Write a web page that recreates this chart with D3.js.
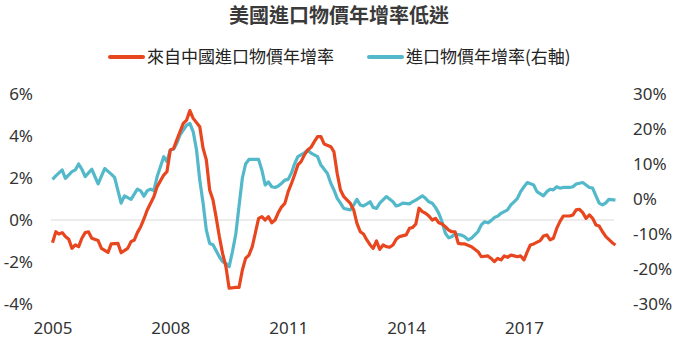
<!DOCTYPE html>
<html><head><meta charset="utf-8">
<script src="https://cdn.jsdelivr.net/npm/d3@7"></script>
<style>
body{margin:0;background:#fff;}
text{font-family:"Noto Sans","Noto Sans CJK TC",sans-serif;}
</style></head>
<body><svg id="c" width="680" height="340"></svg>
<script>
const title = "美國進口物價年增率低迷";
const seriesNames = ["來自中國進口物價年增率", "進口物價年增率(右軸)"];
const colors = ["#e8461f", "#52b8ca"];

const chinaMonths = ["2005-01","2005-02","2005-03","2005-04","2005-05","2005-06","2005-07","2005-08","2005-09","2005-10","2005-11","2005-12","2006-01","2006-03","2006-04","2006-06","2006-07","2006-09","2006-10","2006-12","2007-01","2007-02","2007-03","2007-04","2007-05","2007-06","2007-08","2007-09","2007-11","2007-12","2008-01","2008-02","2008-03","2008-05","2008-06","2008-07","2008-08","2008-10","2008-11","2008-12","2009-01","2009-02","2009-03","2009-04","2009-05","2009-06","2009-07","2009-09","2009-10","2009-11","2009-12","2010-01","2010-02","2010-03","2010-04","2010-05","2010-06","2010-07","2010-08","2010-09","2010-10","2010-11","2010-12","2011-01","2011-02","2011-03","2011-04","2011-05","2011-06","2011-07","2011-08","2011-09","2011-10","2011-11","2011-12","2012-02","2012-03","2012-04","2012-05","2012-06","2012-08","2012-09","2012-10","2012-11","2012-12","2013-01","2013-02","2013-03","2013-04","2013-05","2013-06","2013-07","2013-08","2013-09","2013-10","2013-11","2014-01","2014-02","2014-03","2014-04","2014-05","2014-06","2014-07","2014-08","2014-09","2014-10","2014-11","2014-12","2015-01","2015-02","2015-03","2015-04","2015-05","2015-06","2015-07","2015-09","2015-11","2015-12","2016-02","2016-03","2016-04","2016-05","2016-06","2016-07","2016-08","2016-09","2016-10","2016-11","2016-12","2017-01","2017-02","2017-03","2017-04","2017-06","2017-07","2017-08","2017-09","2017-10","2017-11","2017-12","2018-01","2018-03","2018-04","2018-05","2018-06","2018-07","2018-08","2018-09","2018-10","2018-11","2018-12","2019-01","2019-02","2019-04","2019-05"];
const chinaValues = [-1.08,-0.56,-0.67,-0.60,-0.79,-0.92,-1.35,-1.19,-1.27,-0.87,-0.60,-0.56,-0.87,-0.98,-1.35,-1.54,-1.14,-1.11,-1.56,-1.35,-1.03,-0.95,-0.60,-0.32,0.05,0.48,1.11,1.59,2.14,2.30,3.33,3.41,3.81,4.60,4.76,5.21,4.84,4.44,3.41,2.86,1.43,0.95,0.16,-0.79,-1.59,-2.22,-3.25,-3.21,-3.21,-2.38,-1.83,-1.67,-1.27,-0.63,0.08,0.16,0,0.16,-0.13,0,0.35,0.63,0.79,1.35,1.75,2.14,2.62,2.78,3.10,3.33,3.46,3.73,3.97,3.97,3.62,3.49,3.25,2.20,1.43,1.11,0.79,0.48,-0.16,-0.56,-0.67,-0.95,-1.19,-1.35,-1.00,-1.40,-1.19,-1.27,-1.30,-1.19,-0.92,-0.79,-0.71,-0.40,-0.36,-0.20,0.56,0.40,0.32,0.19,0,0.08,-0.13,-0.19,-0.32,-0.48,-0.56,-0.56,-1.11,-1.14,-1.14,-1.27,-1.51,-1.75,-1.71,-1.83,-1.98,-1.83,-1.90,-1.71,-1.78,-1.67,-1.71,-1.75,-1.71,-1.90,-1.51,-1.19,-1.14,-0.98,-0.76,-0.71,-0.95,-0.87,-0.40,-0.08,0.19,0.19,0.24,0.48,0.51,0.35,0.08,0.24,0.08,-0.24,-0.29,-0.56,-0.79,-1.08,-1.19];

const totalMonths = ["2005-01","2005-02","2005-04","2005-05","2005-07","2005-08","2005-09","2005-10","2005-11","2006-01","2006-03","2006-05","2006-07","2006-08","2006-10","2006-11","2007-01","2007-03","2007-04","2007-05","2007-06","2007-07","2007-08","2007-09","2007-11","2007-12","2008-01","2008-02","2008-03","2008-04","2008-06","2008-07","2008-08","2008-09","2008-10","2008-11","2008-12","2009-01","2009-02","2009-04","2009-05","2009-06","2009-07","2009-08","2009-09","2009-10","2009-11","2009-12","2010-01","2010-02","2010-04","2010-05","2010-06","2010-07","2010-08","2010-09","2010-10","2010-11","2010-12","2011-01","2011-02","2011-03","2011-04","2011-06","2011-07","2011-08","2011-10","2011-11","2012-01","2012-02","2012-03","2012-04","2012-05","2012-06","2012-08","2012-09","2012-10","2012-11","2012-12","2013-02","2013-03","2013-04","2013-05","2013-07","2013-09","2013-10","2013-11","2013-12","2014-02","2014-03","2014-04","2014-06","2014-07","2014-08","2014-09","2014-10","2014-11","2014-12","2015-01","2015-02","2015-03","2015-04","2015-06","2015-07","2015-08","2015-09","2015-11","2015-12","2016-01","2016-02","2016-03","2016-04","2016-05","2016-06","2016-08","2016-09","2016-10","2016-11","2016-12","2017-01","2017-02","2017-04","2017-05","2017-07","2017-08","2017-09","2017-10","2017-11","2017-12","2018-01","2018-03","2018-04","2018-05","2018-06","2018-07","2018-08","2018-09","2018-10","2018-11","2018-12","2019-01","2019-02","2019-03","2019-05"];
const totalValues = [5.6,6.6,8.3,5.9,7.8,8.3,10,8.5,6.4,8.5,4.3,8.7,7.1,6.2,-1.2,0.9,-0.1,2.8,2.3,0.8,2.4,2.8,2.4,6.4,12.1,10.7,14,14.2,15.9,18.3,21.1,21.6,19.2,14,5.4,-1.2,-8.9,-12.7,-13.1,-16.5,-17.9,-18.4,-19.3,-15,-10,-2,6,10,11.3,11.3,11.3,8.3,4.0,4.9,3.5,3.3,3.7,4.5,5.4,5.6,7.5,10,12.1,13.2,14,13.1,12.1,9.7,7.3,4.5,2.6,0.2,-1.2,-2.7,-3.1,-1.7,-0.1,-1.7,-2,-0.8,-2.4,-2.7,-1.2,0.7,-0.8,-2,-1.7,-1.2,-1.4,-0.8,-0.3,0.9,0.2,-0.8,-1.2,-2.4,-4.1,-6.5,-9.8,-11.1,-10.8,-10,-10.3,-10.8,-11.7,-11.2,-9.3,-7.4,-6.5,-6.8,-6.2,-5.3,-4.9,-4.1,-3.1,-1.7,-0.8,0.2,2.1,3.5,4.7,4.0,2.1,0.9,2.1,2.8,2.6,3.5,3.1,3.3,3.3,3.5,4.3,4.5,4.7,4.0,3.3,3.1,0.9,-1.2,-1.7,-1.1,-0.1,-0.3];

const xTickYears = [2005, 2008, 2011, 2014, 2017];
const leftTicks = [6, 4, 2, 0, -2, -4];
const rightTicks = [30, 20, 10, 0, -10, -20, -30];

const svg = d3.select("#c");
const parse = d3.timeParse("%Y-%m");
const x = d3.scaleTime().domain([new Date(2005,0,1), new Date(2017,0,1)]).range([52.5, 524]);
const yL = d3.scaleLinear().domain([-4, 6]).range([304, 94]);
const yR = d3.scaleLinear().domain([-30, 30]).range([304, 94]);

// title
svg.append("text").attr("x", 339).attr("y", 23).attr("text-anchor","middle")
  .style("font-family",'"Noto Sans CJK TC",sans-serif')
  .attr("font-size", 20).attr("font-weight", "bold").attr("fill", "#3a3a3a").text(title);

// legend
const legendX = [110, 369];
seriesNames.forEach((n, i) => {
  svg.append("line").attr("x1", legendX[i]).attr("x2", legendX[i] + 33)
    .attr("y1", 57).attr("y2", 57).attr("stroke", colors[i]).attr("stroke-width", 4).attr("stroke-linecap","round");
  svg.append("text").attr("x", legendX[i] + 37).attr("y", 57).attr("dy","0.36em")
    .style("font-family",'"Noto Sans CJK TC",sans-serif')
    .attr("font-size", 17).attr("fill", "#222").text(n);
});

// zero gridline
svg.append("line").attr("x1", 51).attr("x2", 614).attr("y1", yL(0)).attr("y2", yL(0))
  .attr("stroke", "#d9d9d9").attr("stroke-width", 1.2);

// left axis
const gL = svg.append("g").attr("transform","translate(33,0)")
  .call(d3.axisLeft(yL).tickValues(leftTicks).tickSize(0).tickPadding(0).tickFormat(d => d + "%"));
// right axis
const gR = svg.append("g").attr("transform","translate(633,0)")
  .call(d3.axisRight(yR).tickValues(rightTicks).tickSize(0).tickPadding(0).tickFormat(d => d + "%"));
// x axis
const gX = svg.append("g").attr("transform","translate(0,322)")
  .call(d3.axisBottom(x).tickValues(xTickYears.map(y => new Date(y,0,1))).tickSize(0).tickPadding(0).tickFormat(d3.timeFormat("%Y")));
[gL, gR, gX].forEach(g => {
  g.select(".domain").remove();
  g.selectAll("text").attr("font-size", 17).attr("fill", "#333")
    .style("font-family",'"Noto Sans",sans-serif');
});
gX.selectAll("text").attr("dy", "0.71em").attr("y", 0);

// lines
const lineL = d3.line().x(d => x(d[0])).y(d => yL(d[1]));
const lineR = d3.line().x(d => x(d[0])).y(d => yR(d[1]));
const totalData = totalMonths.map((m, i) => [parse(m), totalValues[i]]);
const chinaData = chinaMonths.map((m, i) => [parse(m), chinaValues[i]]);
svg.append("path").datum(totalData).attr("d", lineR).attr("fill","none")
  .attr("stroke", colors[1]).attr("stroke-width", 3.2).attr("stroke-linejoin","round");
svg.append("path").datum(chinaData).attr("d", lineL).attr("fill","none")
  .attr("stroke", colors[0]).attr("stroke-width", 3.2).attr("stroke-linejoin","round");
</script></body></html>
